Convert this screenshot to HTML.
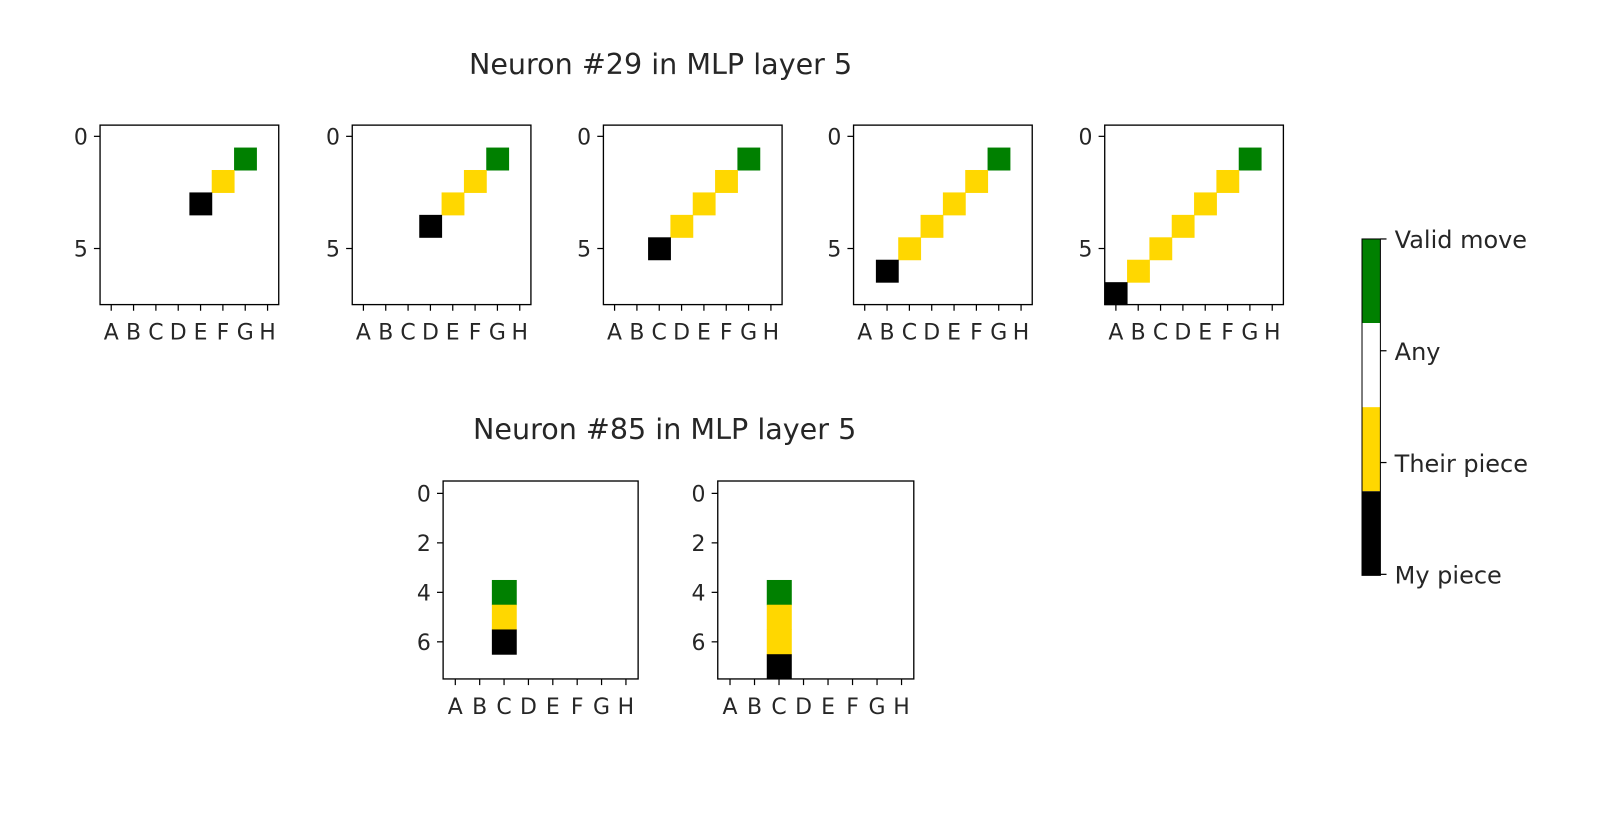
<!DOCTYPE html>
<html><head><meta charset="utf-8"><style>
body{margin:0;background:#fff;}
svg text{font-family:"DejaVu Sans","Liberation Sans",sans-serif;fill:#262626;}
</style></head><body>
<svg width="1600" height="834" xmlns="http://www.w3.org/2000/svg">
<rect width="1600" height="834" fill="#fff"/>
<g transform="scale(1.021,1.0256)">
<text x="647" y="72" font-size="28" text-anchor="middle">Neuron #29 in MLP layer 5</text>
<text x="651" y="428" font-size="28" text-anchor="middle">Neuron #85 in MLP layer 5</text>
<g id="panels"></g>
<rect x="1334" y="233" width="18" height="82" fill="#008000"/>
<rect x="1334" y="315" width="18" height="82" fill="#fff"/>
<rect x="1334" y="397" width="18" height="82" fill="#ffd700"/>
<rect x="1334" y="479" width="18" height="82" fill="#000"/>
<rect x="1334" y="233" width="18" height="328" fill="none" stroke="#000" stroke-width="1"/>
<g stroke="#000" stroke-width="1.2">
<line x1="1352" y1="233" x2="1358" y2="233"/><line x1="1352" y1="342" x2="1358" y2="342"/>
<line x1="1352" y1="451" x2="1358" y2="451"/><line x1="1352" y1="560" x2="1358" y2="560"/></g>
<g font-size="23.5"><text x="1366" y="242">Valid move</text><text x="1366" y="351">Any</text>
<text x="1366" y="460">Their piece</text><text x="1366" y="569">My piece</text></g>
</g>
</svg>
<script>
const NS="http://www.w3.org/2000/svg";const g=document.getElementById("panels");
function el(t,a,txt){const e=document.createElementNS(NS,t);for(const k in a)e.setAttribute(k,a[k]);if(txt!=null)e.textContent=txt;g.appendChild(e);return e;}
const C={g:"#008000",y:"#ffd700",k:"#000"};
function panel(x0,y0,w,h,cells,yt){
 const cw=w/8,ch=h/8;
 for(const [c,r,col] of cells) el("rect",{x:x0+c*cw,y:y0+r*ch,width:cw+0.5,height:ch+0.5,fill:C[col]});
 el("rect",{x:x0,y:y0,width:w,height:h,fill:"none",stroke:"#000","stroke-width":1.3});
 "ABCDEFGH".split("").forEach((L,i)=>{const cx=x0+(i+0.5)*cw;
  el("line",{x1:cx,y1:y0+h,x2:cx,y2:y0+h+6,stroke:"#000","stroke-width":1.2});
  el("text",{x:cx,y:y0+h+34,"font-size":21.5,"text-anchor":"middle"},L);});
 for(const r of yt){const cy=y0+(r+0.5)*ch;
  el("line",{x1:x0-6,y1:cy,x2:x0,y2:cy,stroke:"#000","stroke-width":1.2});
  el("text",{x:x0-12,y:cy+8,"font-size":21.5,"text-anchor":"end"},String(r));}
}
const tops=[98,345,591,836,1082];
tops.forEach((x,p)=>{const cells=[[6,1,"g"]];const n=p+1;
 for(let i=1;i<=n;i++)cells.push([6-i,1+i,"y"]);
 cells.push([6-n-1,2+n,"k"]);panel(x,122,175,175,cells,[0,5]);});
panel(434,469,191,193,[[2,4,"g"],[2,5,"y"],[2,6,"k"]],[0,2,4,6]);
panel(703,469,192,193,[[2,4,"g"],[2,5,"y"],[2,6,"y"],[2,7,"k"]],[0,2,4,6]);
</script>
</body></html>
